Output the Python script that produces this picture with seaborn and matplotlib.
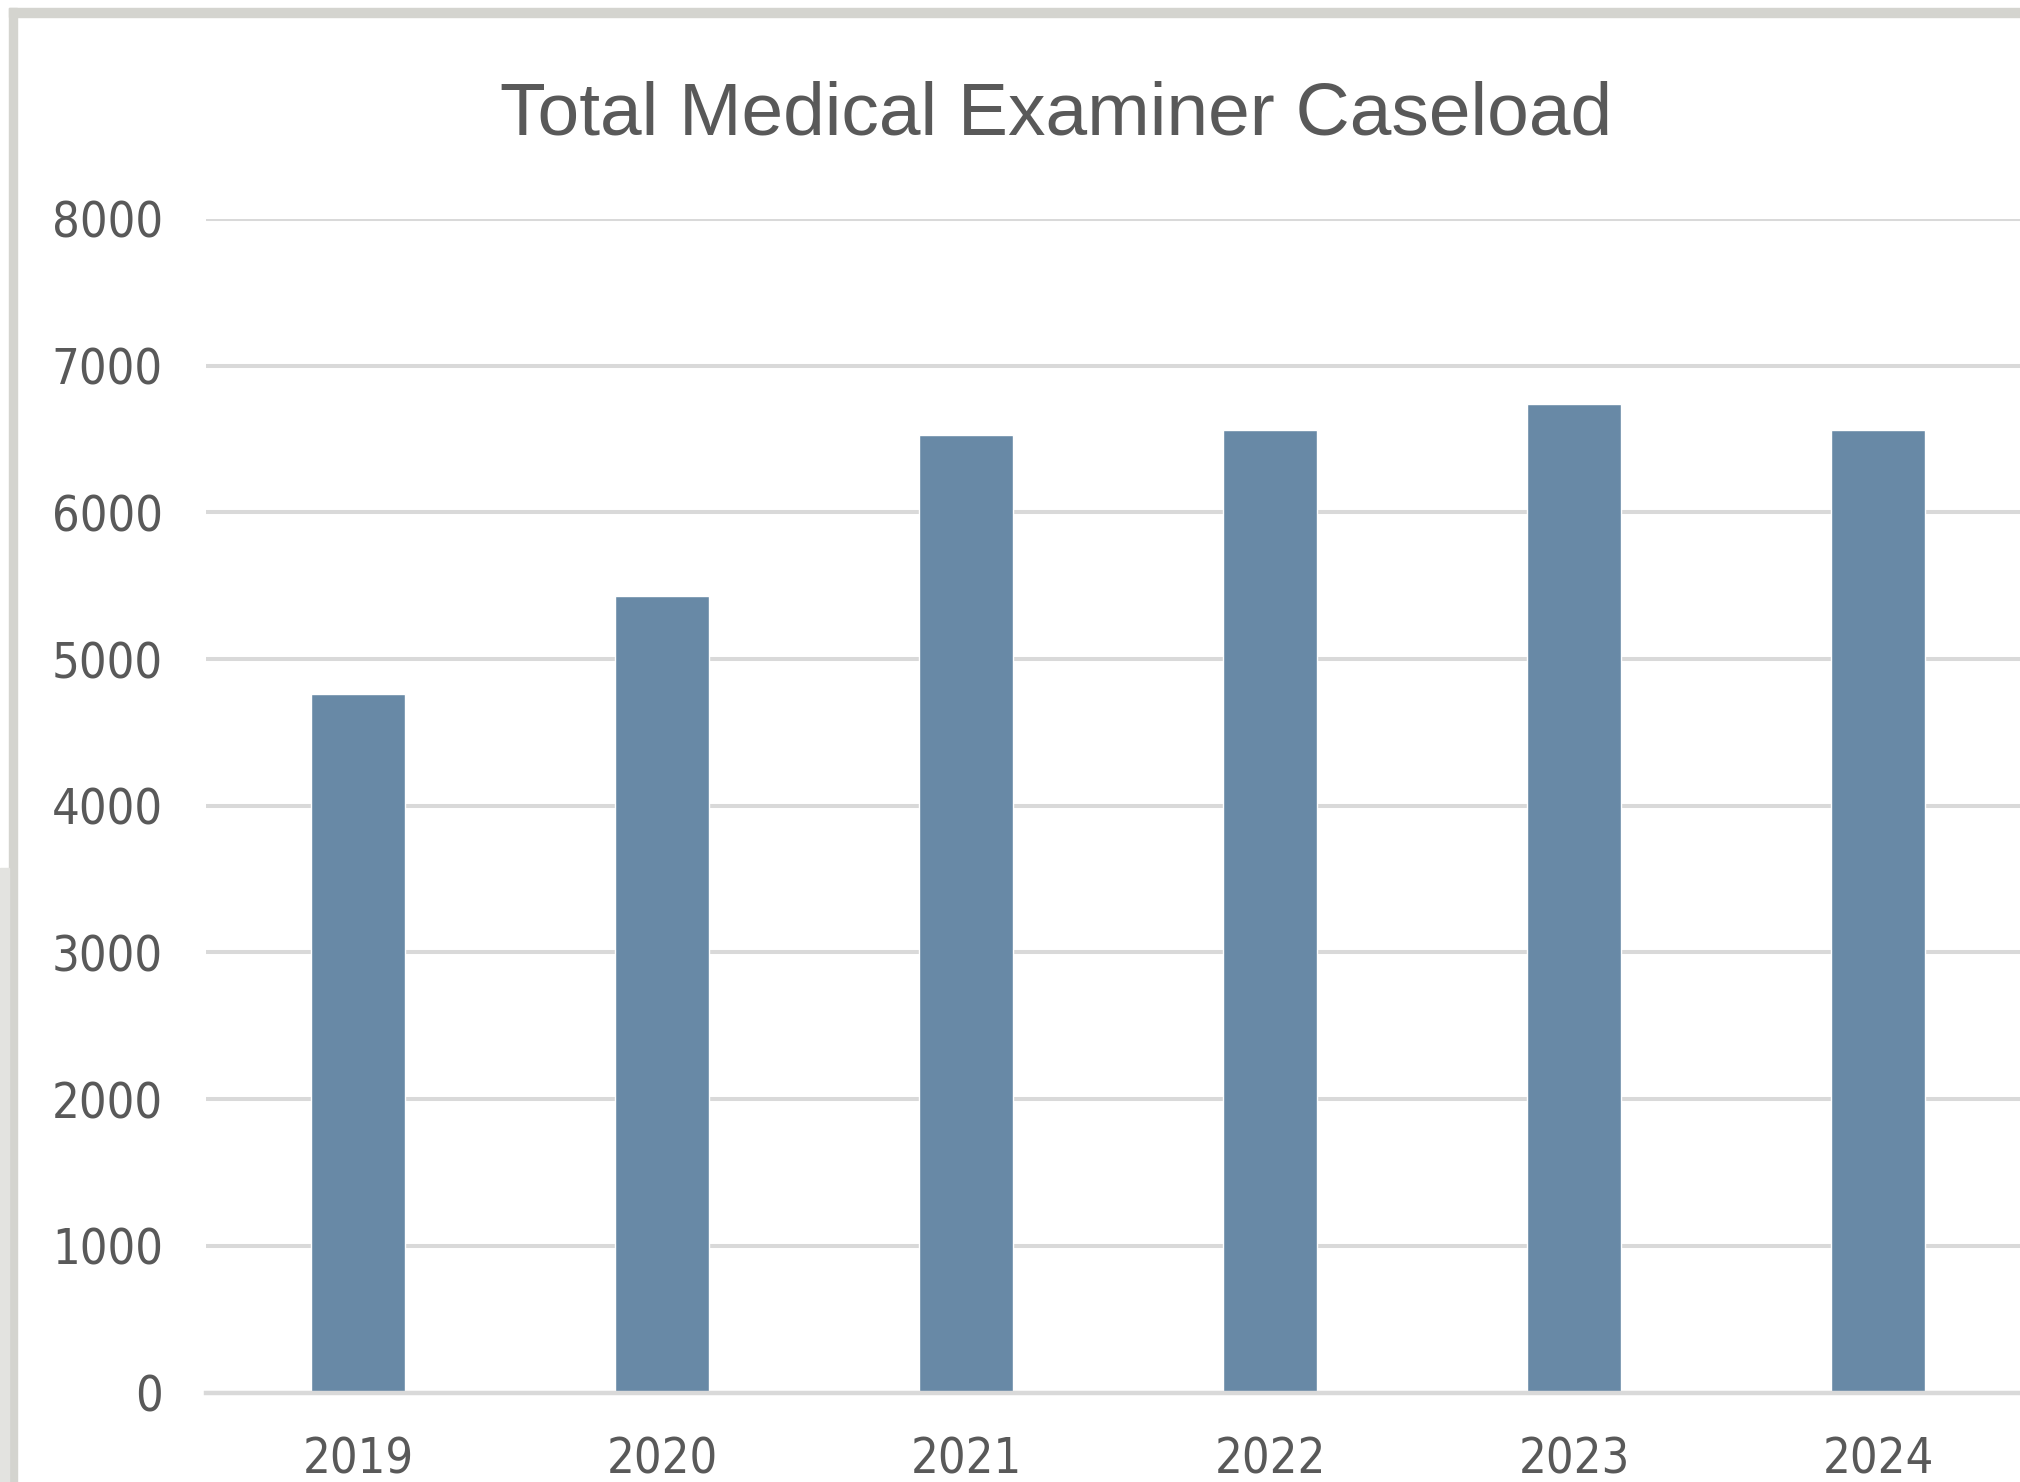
import matplotlib
matplotlib.use("Agg")
import matplotlib.pyplot as plt
import seaborn as sns
import pandas as pd
from matplotlib.patches import Rectangle

# data
years = ["2019", "2020", "2021", "2022", "2023", "2024"]
cases = [4760, 5430, 6530, 6560, 6740, 6560]

df = pd.DataFrame({"year": years, "cases": cases})

sns.set_style("white")
plt.rcParams["font.family"] = ["DejaVu Sans"]
plt.rcParams["font.stretch"] = "condensed"

text_col = "#595959"
grid_col = "#d9d9d9"

fig = plt.figure(figsize=(20.2, 14.82), dpi=100)
ax = fig.add_axes([0.102, 0.0603, 0.903, 0.792])

sns.barplot(data=df, x="year", y="cases", color="#6889a6", width=0.31,
            saturation=1, ax=ax, zorder=3)

ax.set_xlim(-0.5, 5.5)
ax.set_ylim(0, 8000)
ax.set_yticks(range(0, 8001, 1000))
ax.yaxis.grid(True, color=grid_col, linewidth=2.9, zorder=0)
ax.xaxis.grid(False)
ax.set_xlabel("")
ax.set_ylabel("")
for s in ["top", "right", "left"]:
    ax.spines[s].set_visible(False)
ax.spines["bottom"].set_color(grid_col)
ax.spines["bottom"].set_linewidth(3.2)
ax.spines["bottom"].set_zorder(4)
ax.tick_params(axis="both", length=0, labelsize=35, colors=text_col)
ax.tick_params(axis="y", pad=31)
ax.tick_params(axis="x", pad=31)

# title
fig.text(0.523, 0.909, "Total Medical Examiner Caseload", ha="center", va="baseline",
         fontsize=54, color=text_col, family=["Liberation Sans", "DejaVu Sans"],
         fontstretch="normal")

# outer frame of the screenshot
fig.patches.append(Rectangle((9 / 2020, 0), 8 / 2020, 1 - 8 / 1482, transform=fig.transFigure,
                             color="#d4d4cf", zorder=10))
fig.patches.append(Rectangle((9 / 2020, 1 - 17 / 1482), 1, 9 / 1482, transform=fig.transFigure,
                             color="#d4d4cf", zorder=10))
fig.patches.append(Rectangle((0, 0), 9 / 2020, 1 - 868 / 1482, transform=fig.transFigure,
                             color="#e3e3e0", zorder=10))

fig.savefig("out.png", dpi=100)
